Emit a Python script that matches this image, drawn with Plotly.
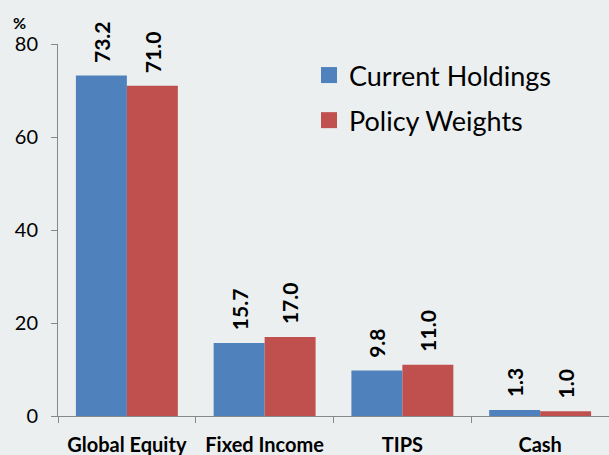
import plotly.graph_objects as go

categories = ["Global Equity", "Fixed Income", "TIPS", "Cash"]
current_holdings = [73.2, 15.7, 9.8, 1.3]
policy_weights = [71.0, 17.0, 11.0, 1.0]
y_ticks = [0, 20, 40, 60, 80]

BLUE = "#4F81BD"
RED = "#C0504D"
BG = "#EBEFF0"
FONT = "Lato, 'Open Sans', sans-serif"

fig = go.Figure()
bw = 0.37
series = [("Current Holdings", current_holdings, BLUE, -bw, "a"),
          ("Policy Weights", policy_weights, RED, 0, "b")]
for name, vals, col, off, grp in series:
    fig.add_trace(go.Bar(name=name, x=list(range(4)), y=vals,
                         marker=dict(color=col, line=dict(width=0)), width=bw, offset=off,
                         legendgroup=grp, showlegend=False))
for name, vals, col, off, grp in series:
    # legend proxy with a larger square swatch
    fig.add_trace(go.Scatter(name=name, x=[None], y=[None], mode="markers",
                             marker=dict(symbol="square", size=16, color=col,
                                         line=dict(width=0)),
                             legendgroup=grp, showlegend=True, hoverinfo="skip"))

for i, (a, b) in enumerate(zip(current_holdings, policy_weights)):
    for xv, v in ((i - bw / 2, a), (i + bw / 2, b)):
        fig.add_annotation(x=xv, y=v, text=f"<b>{v:.1f}</b>", textangle=-90,
                           showarrow=False, yanchor="bottom", xanchor="center",
                           yshift=11, font=dict(size=21, color="black", family=FONT))

fig.add_annotation(xref="paper", yref="paper", x=(19 - 58) / 551, y=(416 - 22) / 372,
                   xanchor="center", yanchor="middle",
                   text="<b>%</b>", showarrow=False,
                   font=dict(size=16, color="black", family=FONT))

fig.update_layout(
    width=609, height=455,
    paper_bgcolor=BG, plot_bgcolor=BG,
    margin=dict(l=58, r=0, t=44, b=39, autoexpand=False),
    font=dict(family=FONT, color="black"),
    showlegend=True,
    legend=dict(x=(309 - 58) / 551, y=(416 - 51) / 372, xanchor="left", yanchor="top",
                bgcolor="rgba(0,0,0,0)", traceorder="grouped", itemsizing="trace",
                font=dict(size=27, family=FONT), tracegroupgap=7, itemwidth=30),
)
fig.update_xaxes(
    tickmode="array", tickvals=list(range(4)), ticktext=[f"<b>{c}</b>" for c in categories],
    range=[-0.5, 3.5], showline=True, linecolor="#888888", linewidth=1,
    ticks="", showgrid=False, zeroline=False, automargin=False,
    tickfont=dict(size=20), ticklabelstandoff=11,
    minor=dict(tickvals=[-0.5, 0.5, 1.5, 2.5, 3.5], ticks="outside",
               ticklen=6, tickcolor="#888888"),
)
fig.update_yaxes(
    range=[0, 80], tickvals=y_ticks, showline=True, linecolor="#888888", linewidth=1,
    ticks="outside", ticklen=6, tickcolor="#888888", showgrid=False, zeroline=False,
    tickfont=dict(size=20), automargin=False, ticklabelstandoff=9,
)

fig.write_html("out.html", config={"displayModeBar": False},
               post_script="document.body.style.margin='0';document.body.style.overflow='hidden';")
